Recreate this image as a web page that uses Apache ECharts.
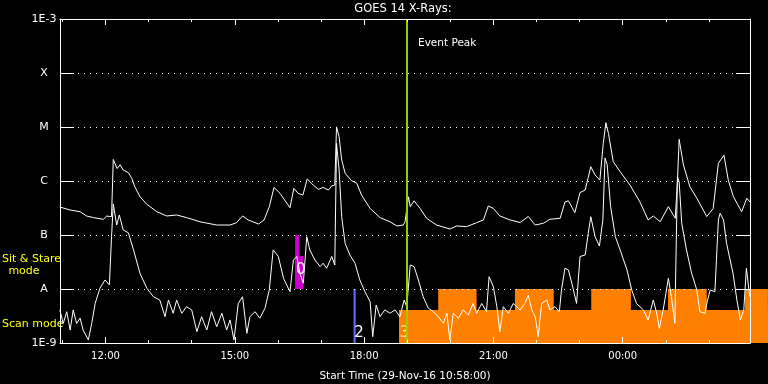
<!DOCTYPE html>
<html><head><meta charset="utf-8">
<script src="https://cdn.jsdelivr.net/npm/echarts@6/dist/echarts.min.js"></script>
<style>html,body{margin:0;padding:0;background:#000;}#c{width:768px;height:384px;}</style>
</head><body><div id="c"></div>
<script>
// ---- data (hours since 29-Nov-16 00:00, flux W/m^2) ----
const xMin = 10.944, xMax = 26.954;
const majorTicks = [12, 15, 18, 21, 24];
const minorTicks = [11, 13, 14, 16, 17, 19, 20, 22, 23, 25, 26];
const yLabels = ['1E-9', 'A', 'B', 'C', 'M', 'X', '1E-3'];

const upperTime = [10.94,11.18,11.41,11.56,11.72,11.95,12.03,12.09,12.14,12.18,12.22,12.27,12.34,12.41,12.53,12.61,12.68,12.80,12.96,13.19,13.42,13.65,13.88,14.19,14.58,14.89,15.04,15.18,15.31,15.55,15.68,15.80,15.91,16.05,16.28,16.37,16.47,16.58,16.68,16.82,16.94,17.05,17.17,17.25,17.32,17.36,17.42,17.48,17.56,17.71,17.83,17.94,18.14,18.37,18.60,18.76,18.91,18.95,19.03,19.07,19.16,19.30,19.45,19.68,19.99,20.15,20.38,20.61,20.77,20.88,21.00,21.15,21.39,21.62,21.81,21.97,22.16,22.31,22.55,22.66,22.74,22.89,23.01,23.13,23.26,23.36,23.47,23.55,23.61,23.67,23.78,23.94,24.17,24.40,24.59,24.71,24.87,25.06,25.22,25.27,25.31,25.41,25.56,25.72,25.95,26.10,26.22,26.35,26.45,26.57,26.76,26.88,26.95];
const upperFlux = [3.3e-7,2.9e-7,2.7e-7,2.25e-7,2.1e-7,1.95e-7,2.25e-7,2.2e-7,2.2e-7,2.5e-6,2.45e-6,1.7e-6,2.0e-6,1.6e-6,1.43e-6,1.12e-6,7.8e-7,5.1e-7,3.7e-7,2.7e-7,2.25e-7,2.35e-7,2.1e-7,1.76e-7,1.53e-7,1.53e-7,1.69e-7,2.25e-7,1.9e-7,1.6e-7,1.9e-7,3.34e-7,7.6e-7,5.9e-7,3.2e-7,7.3e-7,5.9e-7,5.5e-7,1.09e-6,8.4e-7,7.0e-7,7.6e-7,6.8e-7,8.1e-7,8.4e-7,1.01e-5,6.6e-6,2.45e-6,1.39e-6,1.01e-6,9.1e-7,5.5e-7,3.1e-7,2.1e-7,1.76e-7,1.47e-7,1.53e-7,1.76e-7,5.1e-7,3.34e-7,4.3e-7,3.1e-7,2.04e-7,1.53e-7,1.29e-7,1.47e-7,1.43e-7,1.69e-7,1.9e-7,3.44e-7,3.1e-7,2.25e-7,1.9e-7,1.7e-7,2.2e-7,1.53e-7,1.65e-7,1.95e-7,2.04e-7,4.1e-7,4.3e-7,2.6e-7,6.1e-7,6.8e-7,1.84e-6,1.29e-6,1.04e-6,5.0e-6,1.2e-5,7.6e-6,2.28e-6,1.49e-6,8.4e-7,4.1e-7,1.9e-7,2.25e-7,1.76e-7,3.34e-7,2.04e-7,9.7e-7,5.9e-6,1.98e-6,7.8e-7,4.8e-7,2.2e-7,3.1e-7,2.13e-6,3.0e-6,1.04e-6,5.1e-7,2.7e-7,4.8e-7,4.1e-7];

const lowerTime = [10.94,11.02,11.10,11.18,11.25,11.33,11.41,11.48,11.60,11.68,11.76,11.87,11.99,12.09,12.14,12.18,12.26,12.32,12.41,12.53,12.65,12.80,12.96,13.11,13.26,13.38,13.46,13.57,13.65,13.77,13.88,14.00,14.12,14.23,14.35,14.46,14.58,14.70,14.81,14.89,14.98,15.08,15.18,15.28,15.35,15.47,15.58,15.70,15.80,15.89,16.01,16.13,16.28,16.36,16.44,16.51,16.59,16.67,16.74,16.86,16.98,17.05,17.13,17.25,17.32,17.36,17.42,17.48,17.56,17.67,17.79,17.90,18.02,18.14,18.20,18.28,18.37,18.48,18.60,18.72,18.83,18.93,18.99,19.07,19.16,19.26,19.37,19.49,19.61,19.72,19.84,19.92,19.99,20.07,20.19,20.30,20.42,20.53,20.61,20.73,20.84,20.90,21.00,21.08,21.15,21.23,21.35,21.46,21.62,21.73,21.81,21.89,21.97,22.04,22.12,22.24,22.31,22.43,22.53,22.58,22.66,22.74,22.82,22.93,23.01,23.13,23.20,23.26,23.36,23.46,23.54,23.59,23.64,23.72,23.83,23.94,24.10,24.21,24.32,24.48,24.59,24.71,24.79,24.85,24.94,25.06,25.13,25.21,25.27,25.31,25.37,25.48,25.60,25.72,25.79,25.91,25.96,26.03,26.14,26.22,26.26,26.34,26.41,26.56,26.65,26.73,26.81,26.87,26.93,26.95];
const lowerFlux = [4.1e-9,2.3e-9,3.8e-9,1.74e-9,4.1e-9,2.3e-9,2.9e-9,1.74e-9,1.14e-9,2.3e-9,5.4e-9,1.03e-8,1.47e-8,1.19e-8,9.3e-8,3.75e-7,1.53e-7,2.35e-7,1.24e-7,1.1e-7,5.3e-8,1.95e-8,1.03e-8,7.2e-9,6.25e-9,3.07e-9,6.25e-9,3.55e-9,6.25e-9,3.55e-9,4.7e-9,4.1e-9,1.62e-9,3.07e-9,1.74e-9,3.8e-9,2.0e-9,3.55e-9,1.74e-9,2.67e-9,1.14e-9,5.4e-9,7.2e-9,1.51e-9,3.07e-9,3.8e-9,2.87e-9,4.4e-9,9.6e-9,5.3e-8,4.0e-8,1.58e-8,8.9e-9,3.44e-8,4.0e-8,1.95e-8,1.28e-8,9.3e-8,5.3e-8,3.44e-8,2.6e-8,3.0e-8,2.42e-8,4.0e-8,2.78e-8,5.0e-6,1.6e-6,2.18e-7,7.0e-8,4.26e-8,3.0e-8,1.47e-8,8.9e-9,5.8e-9,1.31e-9,5.06e-9,3.07e-9,4.1e-9,3.55e-9,4.1e-9,3.07e-9,6.25e-9,4.7e-9,2.78e-8,2.6e-8,1.47e-8,7.2e-9,4.4e-9,3.8e-9,3.07e-9,2.32e-9,3.55e-9,1.14e-9,3.55e-9,2.87e-9,4.1e-9,3.3e-9,5.4e-9,3.55e-9,5.4e-9,3.8e-9,1.69e-8,1.1e-8,4.7e-9,1.62e-9,4.7e-9,3.55e-9,5.4e-9,4.1e-9,5.4e-9,7.7e-9,4.1e-9,3.07e-9,1.31e-9,5.4e-9,6.25e-9,4.1e-9,4.7e-9,3.8e-9,9.6e-9,2.42e-8,2.25e-8,1.28e-8,5.4e-9,4.0e-8,4.26e-8,1.07e-7,2.18e-7,9.3e-8,6.25e-8,1.9e-7,2.67e-6,2.0e-6,3.34e-7,9.3e-8,5.3e-8,2.25e-8,9.6e-9,5.4e-9,4.1e-9,2.67e-9,6.25e-9,3.55e-9,1.87e-9,4.1e-9,1.58e-8,7.2e-9,2.32e-9,1.2e-6,9.7e-7,1.65e-7,5.3e-8,1.95e-8,9.6e-9,3.8e-9,3.55e-9,5.8e-9,9.6e-9,8.9e-9,1.9e-7,2.52e-7,1.9e-7,7.0e-8,1.95e-8,6.25e-9,2.67e-9,4.1e-9,2.42e-8,9.6e-9,7.2e-9];

const eventPeak = 19.0;
// observing-mode blocks: [start, end, bottomFlux, topFlux]
const scanBlocks = [[18.81,27.37,1e-9,4.1e-9],[19.72,20.61,1e-9,1e-8],[21.50,22.40,1e-9,1e-8],[23.27,24.19,1e-9,1e-8],[25.05,25.95,1e-9,1e-8],[26.84,27.37,1e-9,1e-8]];
const sitStareBlocks = [[16.40,16.49,1e-8,1e-7],[16.40,16.59,1e-8,4.1e-8]];
const blueBlocks = [[17.755,17.805,1e-9,1e-8]];
// numbered markers: [time, flux, label]
const markers = [[16.42,2.25e-8,'0'],[17.77,1.5e-9,'2'],[18.83,1.5e-9,'3']];

const pair = (t, f) => t.map((v, i) => [v, f[i]]);
const fmtHour = v => String(Math.round(v) % 24).padStart(2, '0') + ':00';
const FONT = 'DejaVu Sans';

function rectRender(color) {
  return function (params, api) {
    const p0 = api.coord([api.value(0), api.value(3)]);
    const p1 = api.coord([api.value(1), api.value(2)]);
    return { type: 'rect', shape: { x: p0[0], y: p0[1], width: p1[0] - p0[0], height: p1[1] - p0[1] }, style: { fill: color } };
  };
}

function xAx(pos, ticks, len, labels, showLine) {
  return {
    type: 'value', position: pos, min: xMin, max: xMax, z: 5,
    axisLine: { show: showLine, onZero: false, lineStyle: { color: '#fff', width: 1 } },
    axisTick: { show: true, inside: true, length: len, customValues: ticks, lineStyle: { color: '#fff' } },
    axisLabel: labels ? { show: true, customValues: ticks, formatter: fmtHour, color: '#fff', fontFamily: FONT, fontSize: 10, margin: 8 } : { show: false },
    splitLine: { show: false }
  };
}
function yAx(pos, grid) {
  return {
    type: 'log', logBase: 10, position: pos, min: 1e-9, max: 1e-3, interval: 1, z: 5,
    axisLine: { show: true, onZero: false, lineStyle: { color: '#fff', width: 1 } },
    axisTick: { show: true, inside: true, length: 14, lineStyle: { color: '#fff' } },
    axisLabel: grid ? { show: true, showMinLabel: true, showMaxLabel: true, align: 'center', margin: 16, color: '#fff', fontFamily: FONT, fontSize: 11,
      formatter: v => yLabels[Math.round(Math.log10(v)) + 9] } : { show: false },
    splitLine: { show: grid, lineStyle: { color: '#fff', type: [1, 5], width: 1 } }
  };
}

const chart = echarts.init(document.getElementById('c'), null, { renderer: 'canvas' });
const xAxes = [xAx('bottom', majorTicks, 6, true, true), xAx('bottom', minorTicks, 3, false, false), xAx('top', majorTicks, 6, false, true), xAx('top', minorTicks, 3, false, false)];
xAxes[0].name = 'Start Time (29-Nov-16 10:58:00)';
xAxes[0].nameLocation = 'middle';
xAxes[0].nameGap = 28;
xAxes[0].nameTextStyle = { color: '#fff', fontFamily: FONT, fontSize: 10.5 };

chart.setOption({
  animation: false,
  backgroundColor: '#000',
  grid: { left: 60, right: 18, top: 19, bottom: 41, containLabel: false, outerBoundsMode: 'none' },
  xAxis: xAxes,
  yAxis: [yAx('left', true), yAx('right', false)],
  graphic: [
    { type: 'text', x: 403, y: 9, style: { text: 'GOES 14 X-Rays:', fill: '#fff', font: '11.5px ' + FONT, textAlign: 'center', textVerticalAlign: 'middle' } },
    { type: 'text', x: 418, y: 43, style: { text: 'Event Peak', fill: '#fff', font: '10.5px ' + FONT, textAlign: 'left', textVerticalAlign: 'middle' } },
    { type: 'text', x: 2, y: 259, style: { text: 'Sit & Stare', fill: '#ffff00', font: '11px ' + FONT, textAlign: 'left', textVerticalAlign: 'middle' } },
    { type: 'text', x: 24, y: 271, style: { text: 'mode', fill: '#ffff00', font: '11px ' + FONT, textAlign: 'center', textVerticalAlign: 'middle' } },
    { type: 'text', x: 2, y: 324, style: { text: 'Scan mode', fill: '#ffff00', font: '11px ' + FONT, textAlign: 'left', textVerticalAlign: 'middle' } }
  ],
  series: [
    { type: 'custom', name: 'scan', clip: false, z: 1, renderItem: rectRender('#ff8000'), encode: { x: [0, 1], y: [2, 3] }, data: scanBlocks },
    { type: 'custom', name: 'sitstare', clip: false, z: 1, renderItem: rectRender('#cc00cc'), encode: { x: [0, 1], y: [2, 3] }, data: sitStareBlocks },
    { type: 'custom', name: 'blue', clip: false, z: 1, renderItem: rectRender('#6464ff'), encode: { x: [0, 1], y: [2, 3] }, data: blueBlocks },
    { type: 'line', name: 'long', data: pair(upperTime, upperFlux), symbol: 'none', z: 3, lineStyle: { color: '#fff', width: 1 }, itemStyle: { color: '#fff' },
      markLine: { silent: true, symbol: 'none', label: { show: false }, lineStyle: { color: '#9acd00', width: 2, type: 'solid' }, data: [{ xAxis: eventPeak }] } },
    { type: 'line', name: 'short', data: pair(lowerTime, lowerFlux), symbol: 'none', z: 3, lineStyle: { color: '#fff', width: 1 }, itemStyle: { color: '#fff' } },
    { type: 'custom', name: 'markers', clip: false, z: 4,
      renderItem: (params, api) => {
        const p = api.coord([api.value(0), api.value(1)]);
        const lbl = markers[params.dataIndex][2];
        return { type: 'text', x: p[0], y: p[1], style: { text: lbl, fill: lbl === '3' ? '#ffe8c0' : '#fff', font: '15px ' + FONT, textAlign: 'left', textVerticalAlign: 'middle' } };
      },
      encode: { x: 0, y: 1 }, data: markers.map(m => [m[0], m[1]]) }
  ]
});
</script></body></html>
